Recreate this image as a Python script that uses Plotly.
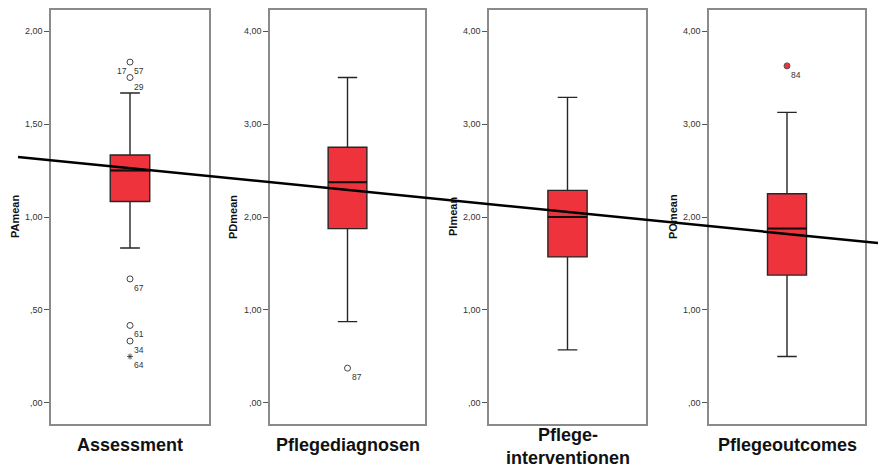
import plotly.graph_objects as go

# ---------------- data ----------------
categories = ["Assessment", "Pflegediagnosen", "Pflege-<br>interventionen", "Pflegeoutcomes"]
axis_titles = ["PAmean", "PDmean", "PImean", "POmean"]

q1 = [1.083, 1.875, 1.571, 1.375]
medians = [1.25, 2.375, 2.0, 1.875]
q3 = [1.333, 2.75, 2.286, 2.25]
lower_whisker = [0.833, 0.875, 0.571, 0.5]
upper_whisker = [1.667, 3.5, 3.286, 3.125]

# outliers (circles) per panel
outlier_values = [[1.833, 1.75, 0.667, 0.417, 0.333], [0.375], [], [3.625]]
# extremes (stars) per panel
extreme_values = [[0.25], [], [], []]
# case labels per panel
label_texts = [["17", "57", "29", "67", "61", "34", "64"], ["87"], [], ["84"]]
label_values = [[1.833, 1.833, 1.75, 0.667, 0.417, 0.333, 0.25], [0.375], [], [3.625]]

tick_values = [[0, 0.5, 1.0, 1.5, 2.0], [0, 1, 2, 3, 4], [0, 1, 2, 3, 4], [0, 1, 2, 3, 4]]
tick_labels = [[",00", ",50", "1,00", "1,50", "2,00"],
               [",00", "1,00", "2,00", "3,00", "4,00"],
               [",00", "1,00", "2,00", "3,00", "4,00"],
               [",00", "1,00", "2,00", "3,00", "4,00"]]
y_ranges = [[-0.113, 2.113], [-0.226, 4.226], [-0.226, 4.226], [-0.226, 4.226]]

# ---------------- layout geometry (pixels of a 878x467 canvas) ----------------
W, H = 878, 467
frames_x = [(51, 209), (270, 425), (489, 646), (709, 865)]
frame_top, frame_bottom = 10, 424
title_x_px = [15, 233, 453, 673]
label_xshift = [[-8, 9, 9, 9, 9, 9, 9], [9], [], [9]]
BOX_W = 0.25

FONT = "Arial, Liberation Sans, sans-serif"
RED = "#EE333D"

fig = go.Figure()
annotations = []
layout_axes = {}

for i in range(4):
    n = "" if i == 0 else str(i + 1)
    xa, ya = "x" + n, "y" + n
    # box
    fig.add_trace(go.Box(
        x=[0], q1=[q1[i]], median=[medians[i]], q3=[q3[i]],
        lowerfence=[lower_whisker[i]], upperfence=[upper_whisker[i]],
        width=BOX_W, whiskerwidth=0.5, boxpoints=False,
        fillcolor=RED, line=dict(color="#262626", width=1.4),
        xaxis=xa, yaxis=ya, showlegend=False, hoverinfo="skip"))
    # thicker median line (SPSS style)
    fig.add_trace(go.Scatter(
        x=[-BOX_W / 2, BOX_W / 2], y=[medians[i], medians[i]], mode="lines",
        line=dict(color="#111111", width=2), xaxis=xa, yaxis=ya,
        showlegend=False, hoverinfo="skip"))
    # outliers
    if outlier_values[i]:
        is_red = (i == 3)
        fig.add_trace(go.Scatter(
            x=[0] * len(outlier_values[i]), y=outlier_values[i], mode="markers",
            marker=dict(symbol="circle" if is_red else "circle-open", size=6,
                        color=RED if is_red else "#444444",
                        line=dict(color="#555555", width=1)),
            xaxis=xa, yaxis=ya, showlegend=False, hoverinfo="skip"))
    if extreme_values[i]:
        fig.add_trace(go.Scatter(
            x=[0] * len(extreme_values[i]), y=extreme_values[i], mode="markers",
            marker=dict(symbol="asterisk-open", size=5, color="#333333",
                        line=dict(color="#333333", width=0.8)),
            xaxis=xa, yaxis=ya, showlegend=False, hoverinfo="skip"))
    # case labels
    for t, v, dx in zip(label_texts[i], label_values[i], label_xshift[i]):
        annotations.append(dict(x=0, y=v, xref=xa, yref=ya, text=t, showarrow=False,
                                xanchor="center", yanchor="middle",
                                xshift=dx, yshift=-9, font=dict(family=FONT, size=8.5, color="#333333")))
    # axes
    x0, x1 = frames_x[i]
    layout_axes["xaxis" + n] = dict(
        domain=[x0 / W, x1 / W], range=[-0.5, 0.5], showticklabels=False, ticks="",
        showgrid=False, zeroline=False, showline=True, mirror=True,
        linecolor="#8a8a8a", linewidth=1.5, anchor=ya, fixedrange=True)
    layout_axes["yaxis" + n] = dict(
        domain=[1 - frame_bottom / H, 1 - frame_top / H], range=y_ranges[i],
        tickvals=tick_values[i], ticktext=tick_labels[i], ticks="outside", ticklen=5,
        tickcolor="#555555", tickwidth=1, showgrid=False, zeroline=False,
        showline=True, mirror=True, linecolor="#8a8a8a", linewidth=1.5,
        tickfont=dict(family=FONT, size=9, color="#333333"), anchor=xa, fixedrange=True)
    # axis titles
    annotations.append(dict(x=title_x_px[i] / W, y=1 - 217 / H, xref="paper", yref="paper",
                            xanchor="center", yanchor="middle",
                            text="<b>" + axis_titles[i] + "</b>", textangle=-90, showarrow=False,
                            font=dict(family=FONT, size=11, color="#111111")))
    # category labels
    two_line = "<br>" in categories[i]
    annotations.append(dict(x=0, y=1 - (446 if two_line else 445) / H, xref=xa, yref="paper",
                            text="<b>" + categories[i] + "</b>", showarrow=False,
                            xanchor="center", yanchor="middle",
                            font=dict(family=FONT, size=18, color="#111111")))

fig.update_layout(
    width=W, height=H, margin=dict(l=0, r=0, t=0, b=0),
    paper_bgcolor="white", plot_bgcolor="white",
    annotations=annotations,
    shapes=[dict(type="line", xref="paper", yref="paper",
                 x0=18 / W, y0=1 - 157 / H, x1=1.0, y1=1 - 243 / H,
                 line=dict(color="black", width=2.5), layer="above")],
    **layout_axes)

fig.write_html("out.html", config={"displayModeBar": False},
               post_script="document.body.style.margin='0';document.body.style.overflow='hidden';")
